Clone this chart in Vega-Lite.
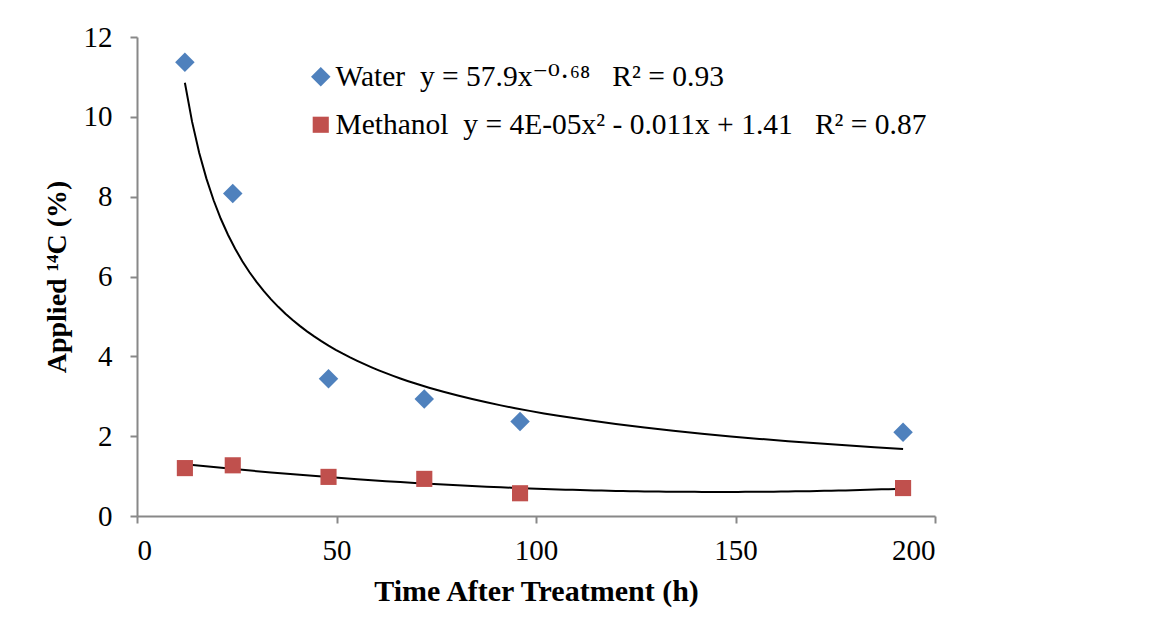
{
  "$schema": "https://vega.github.io/schema/vega-lite/v6.json",
  "autosize": "none",
  "width": 798,
  "height": 479,
  "padding": {"left": 137, "top": 37, "right": 216, "bottom": 121},
  "background": "white",
  "config": {
    "view": {"stroke": null}
  },
  "data": {
    "values": [
      {"series": "Water", "t": 12, "v": 11.37},
      {"series": "Water", "t": 24, "v": 8.08},
      {"series": "Water", "t": 48, "v": 3.44},
      {"series": "Water", "t": 72, "v": 2.93},
      {"series": "Water", "t": 96, "v": 2.37},
      {"series": "Water", "t": 192, "v": 2.1},
      {"series": "Methanol", "t": 12, "v": 1.2},
      {"series": "Methanol", "t": 24, "v": 1.27},
      {"series": "Methanol", "t": 48, "v": 0.98},
      {"series": "Methanol", "t": 72, "v": 0.93},
      {"series": "Methanol", "t": 96, "v": 0.57},
      {"series": "Methanol", "t": 192, "v": 0.7}
    ]
  },
  "layer": [
    {
      "transform": [
        {"filter": "datum.series === 'Water'"},
        {"regression": "v", "on": "t", "method": "pow"}
      ],
      "mark": {"type": "line", "color": "black", "strokeWidth": 2},
      "encoding": {
        "x": {"field": "t", "type": "quantitative"},
        "y": {"field": "v", "type": "quantitative"}
      }
    },
    {
      "transform": [
        {"filter": "datum.series === 'Methanol'"},
        {"regression": "v", "on": "t", "method": "poly", "order": 2}
      ],
      "mark": {"type": "line", "color": "black", "strokeWidth": 2},
      "encoding": {
        "x": {"field": "t", "type": "quantitative"},
        "y": {"field": "v", "type": "quantitative"}
      }
    },
    {
      "mark": {"type": "point", "filled": true, "opacity": 1},
      "encoding": {
        "x": {
          "field": "t",
          "type": "quantitative",
          "scale": {"domain": [0, 200], "nice": false},
          "axis": {
            "values": [0, 50, 100, 150, 200],
            "title": "Time After Treatment (h)",
            "grid": false,
            "domainColor": "#888888", "domainWidth": 2,
            "tickColor": "#888888", "tickWidth": 2, "tickSize": 7,
            "labelFont": "Liberation Serif", "labelFontSize": 29, "labelColor": "black",
            "labelPadding": 13,
            "titleFont": "Liberation Serif", "titleFontSize": 30, "titleFontWeight": "bold", "titleColor": "black",
            "titlePadding": 11
          }
        },
        "y": {
          "field": "v",
          "type": "quantitative",
          "scale": {"domain": [0, 12], "nice": false},
          "axis": {
            "values": [0, 2, 4, 6, 8, 10, 12],
            "title": "Applied ¹⁴C (%)",
            "grid": false,
            "domainColor": "#888888", "domainWidth": 2,
            "tickColor": "#888888", "tickWidth": 2, "tickSize": 7,
            "labelFont": "Liberation Serif", "labelFontSize": 29, "labelColor": "black",
            "labelPadding": 18,
            "titleFont": "Liberation Serif", "titleFontSize": 28, "titleFontWeight": "bold", "titleColor": "black",
            "titlePadding": 12
          }
        },
        "color": {
          "field": "series",
          "type": "nominal",
          "scale": {"domain": ["Water", "Methanol"], "range": ["#4F81BD", "#C0504D"]},
          "legend": {
            "orient": "none",
            "legendX": 169,
            "legendY": 25,
            "title": null,
            "labelFont": "Liberation Serif, DejaVu Serif",
            "labelFontSize": 29.5,
            "labelColor": "black",
            "symbolSize": 289,
            "rowPadding": 17,
            "labelOffset": 0,
            "labelLimit": 1000,
            "labelExpr": "datum.label === 'Water' ? 'Water\u00a0 y = 57.9x⁻⁰·⁶⁸\u00a0\u00a0 R² = 0.93' : 'Methanol\u00a0 y = 4E-05x² - 0.011x + 1.41\u00a0\u00a0 R² = 0.87'"
          }
        },
        "shape": {
          "field": "series",
          "type": "nominal",
          "scale": {"domain": ["Water", "Methanol"], "range": ["diamond", "square"]},
          "legend": null
        },
        "size": {
          "field": "series",
          "type": "nominal",
          "scale": {"domain": ["Water", "Methanol"], "range": [380, 260]},
          "legend": null
        }
      }
    }
  ]
}
